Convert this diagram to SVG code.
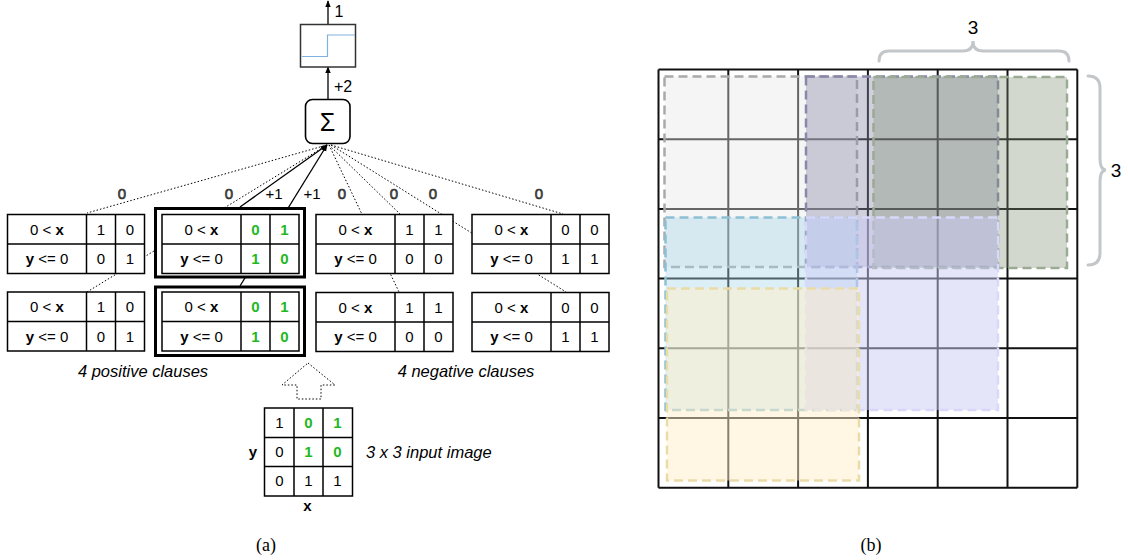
<svg xmlns="http://www.w3.org/2000/svg" width="1128" height="560" viewBox="0 0 1128 560">
<defs>
<style>
text{font-family:"Liberation Sans",Arial,sans-serif;fill:#000}
.t{font-size:15px;text-anchor:middle}
.b{font-weight:bold}
.g{fill:#1fb81f;font-weight:bold}
.lbl{font-size:15px;text-anchor:middle}
.zero{font-size:15px;text-anchor:middle;fill:#555;stroke:#222;stroke-width:0.6}
.it{font-size:16.5px;font-style:italic}
.cap{font-family:"Liberation Serif","Times New Roman",serif;font-size:18px;text-anchor:middle}
.tb{fill:#fff;stroke:#000;stroke-width:1.5}
.tl{stroke:#000;stroke-width:1.5}
.bold{fill:#fff;stroke:#000;stroke-width:3}
.dot{stroke:#000;stroke-width:1;stroke-dasharray:1.5 2;fill:none}
.sol{stroke:#000;stroke-width:1.3;fill:none}
.grid{stroke:#111;stroke-width:2}
.win{stroke-width:2.5;stroke-dasharray:9 5}
.brace{fill:none;stroke:#c3c7ca;stroke-width:3;stroke-linecap:round}
</style>
<marker id="ah" viewBox="0 0 10 10" refX="9" refY="5" markerWidth="7" markerHeight="7" orient="auto" markerUnits="userSpaceOnUse">
<path d="M0,1 L10,5 L0,9 Z" fill="#000"/>
</marker>
</defs>
<rect width="1128" height="560" fill="#fff"/>

<!-- connectors -->
<g id="connectors">
<line class="dot" x1="327" y1="145" x2="87" y2="213"/>
<line class="dot" x1="327" y1="145" x2="87" y2="292"/>
<line class="sol" x1="240" y1="207" x2="327" y2="145" marker-end="url(#ah)"/>
<line class="sol" x1="240" y1="286" x2="327" y2="145" marker-end="url(#ah)"/>
<line class="dot" x1="329" y1="145" x2="399" y2="292"/>
<line class="dot" x1="329" y1="145" x2="400" y2="214"/>
<line class="dot" x1="331" y1="145" x2="566" y2="292"/>
<line class="dot" x1="331" y1="145" x2="563" y2="214"/>
<line class="sol" x1="328" y1="99" x2="328" y2="67" marker-end="url(#ah)"/>
<line class="sol" x1="328" y1="24" x2="328" y2="1" marker-end="url(#ah)"/>
<polygon class="dot" points="308,363 335,385 321,385 321,399 297,399 297,385 282,385"/>
</g>

<!-- step function -->
<g id="step">
<rect x="300.5" y="24.5" width="55" height="42.5" fill="#fff" stroke="#333" stroke-width="1.5"/>
<path d="M302,56.5 H327.5 V35 H355" fill="none" stroke="#7fb2e0" stroke-width="1.2"/>
</g>
<text class="lbl" x="339" y="17" style="font-size:16px">1</text>
<text x="334" y="92" style="font-size:16px">+2</text>

<!-- sum -->
<g id="sum">
<rect x="305.5" y="99.5" width="44.5" height="44" rx="7" fill="#fff" stroke="#000" stroke-width="1.6"/>
<text x="327.5" y="131" style="font-size:25px;text-anchor:middle">Σ</text>
</g>

<!-- weight labels -->
<g id="weights">
<text class="zero" x="122" y="199">0</text>
<text class="zero" x="229" y="199">0</text>
<text class="lbl" x="274" y="199">+1</text>
<text class="lbl" x="312" y="199">+1</text>
<text class="zero" x="342" y="199">0</text>
<text class="zero" x="394" y="199">0</text>
<text class="zero" x="433" y="199">0</text>
<text class="zero" x="539" y="199">0</text>
</g>

<!-- bold frames -->
<rect class="bold" x="155.5" y="208.5" width="149" height="68.5"/>
<rect class="bold" x="155.5" y="287" width="149" height="68.5"/>

<!-- clause tables -->
<g id="clause1">
<rect class="tb" x="7.5" y="214.5" width="137" height="59"/>
<line class="tl" x1="7.5" y1="244" x2="144.5" y2="244"/>
<line class="tl" x1="86.5" y1="214.5" x2="86.5" y2="273.5"/>
<line class="tl" x1="115.5" y1="214.5" x2="115.5" y2="273.5"/>
<text class="t" x="47" y="234.5">0 &lt; <tspan class="b">x</tspan></text>
<text class="t" x="47" y="264"><tspan class="b">y</tspan> &lt;= 0</text>
<text class="t" x="101" y="234.5">1</text><text class="t" x="130" y="234.5">0</text>
<text class="t" x="101" y="264">0</text><text class="t" x="130" y="264">1</text>
</g>
<g id="clause2">
<rect class="tb" x="7.5" y="292" width="137" height="59"/>
<line class="tl" x1="7.5" y1="321.5" x2="144.5" y2="321.5"/>
<line class="tl" x1="86.5" y1="292" x2="86.5" y2="351"/>
<line class="tl" x1="115.5" y1="292" x2="115.5" y2="351"/>
<text class="t" x="47" y="312">0 &lt; <tspan class="b">x</tspan></text>
<text class="t" x="47" y="341.5"><tspan class="b">y</tspan> &lt;= 0</text>
<text class="t" x="101" y="312">1</text><text class="t" x="130" y="312">0</text>
<text class="t" x="101" y="341.5">0</text><text class="t" x="130" y="341.5">1</text>
</g>
<g id="clause3">
<rect class="tb" x="162" y="214.5" width="137" height="59"/>
<line class="tl" x1="162" y1="244" x2="299" y2="244"/>
<line class="tl" x1="241" y1="214.5" x2="241" y2="273.5"/>
<line class="tl" x1="270" y1="214.5" x2="270" y2="273.5"/>
<text class="t" x="201.5" y="234.5">0 &lt; <tspan class="b">x</tspan></text>
<text class="t" x="201.5" y="264"><tspan class="b">y</tspan> &lt;= 0</text>
<text class="t g" x="255.5" y="234.5">0</text><text class="t g" x="284.5" y="234.5">1</text>
<text class="t g" x="255.5" y="264">1</text><text class="t g" x="284.5" y="264">0</text>
</g>
<g id="clause4">
<rect class="tb" x="162" y="292" width="137" height="59"/>
<line class="tl" x1="162" y1="321.5" x2="299" y2="321.5"/>
<line class="tl" x1="241" y1="292" x2="241" y2="351"/>
<line class="tl" x1="270" y1="292" x2="270" y2="351"/>
<text class="t" x="201.5" y="312">0 &lt; <tspan class="b">x</tspan></text>
<text class="t" x="201.5" y="341.5"><tspan class="b">y</tspan> &lt;= 0</text>
<text class="t g" x="255.5" y="312">0</text><text class="t g" x="284.5" y="312">1</text>
<text class="t g" x="255.5" y="341.5">1</text><text class="t g" x="284.5" y="341.5">0</text>
</g>
<g id="clause5">
<rect class="tb" x="316" y="214.5" width="137" height="59"/>
<line class="tl" x1="316" y1="244" x2="453" y2="244"/>
<line class="tl" x1="395" y1="214.5" x2="395" y2="273.5"/>
<line class="tl" x1="424" y1="214.5" x2="424" y2="273.5"/>
<text class="t" x="355.5" y="234.5">0 &lt; <tspan class="b">x</tspan></text>
<text class="t" x="355.5" y="264"><tspan class="b">y</tspan> &lt;= 0</text>
<text class="t" x="409.5" y="234.5">1</text><text class="t" x="438.5" y="234.5">1</text>
<text class="t" x="409.5" y="264">0</text><text class="t" x="438.5" y="264">0</text>
</g>
<g id="clause6">
<rect class="tb" x="472" y="214.5" width="137" height="59"/>
<line class="tl" x1="472" y1="244" x2="609" y2="244"/>
<line class="tl" x1="551" y1="214.5" x2="551" y2="273.5"/>
<line class="tl" x1="580" y1="214.5" x2="580" y2="273.5"/>
<text class="t" x="511.5" y="234.5">0 &lt; <tspan class="b">x</tspan></text>
<text class="t" x="511.5" y="264"><tspan class="b">y</tspan> &lt;= 0</text>
<text class="t" x="565.5" y="234.5">0</text><text class="t" x="594.5" y="234.5">0</text>
<text class="t" x="565.5" y="264">1</text><text class="t" x="594.5" y="264">1</text>
</g>
<g id="clause7">
<rect class="tb" x="316" y="292.5" width="137" height="59"/>
<line class="tl" x1="316" y1="322" x2="453" y2="322"/>
<line class="tl" x1="395" y1="292.5" x2="395" y2="351.5"/>
<line class="tl" x1="424" y1="292.5" x2="424" y2="351.5"/>
<text class="t" x="355.5" y="312.5">0 &lt; <tspan class="b">x</tspan></text>
<text class="t" x="355.5" y="342"><tspan class="b">y</tspan> &lt;= 0</text>
<text class="t" x="409.5" y="312.5">1</text><text class="t" x="438.5" y="312.5">1</text>
<text class="t" x="409.5" y="342">0</text><text class="t" x="438.5" y="342">0</text>
</g>
<g id="clause8">
<rect class="tb" x="472" y="292.5" width="137" height="59"/>
<line class="tl" x1="472" y1="322" x2="609" y2="322"/>
<line class="tl" x1="551" y1="292.5" x2="551" y2="351.5"/>
<line class="tl" x1="580" y1="292.5" x2="580" y2="351.5"/>
<text class="t" x="511.5" y="312.5">0 &lt; <tspan class="b">x</tspan></text>
<text class="t" x="511.5" y="342"><tspan class="b">y</tspan> &lt;= 0</text>
<text class="t" x="565.5" y="312.5">0</text><text class="t" x="594.5" y="312.5">0</text>
<text class="t" x="565.5" y="342">1</text><text class="t" x="594.5" y="342">1</text>
</g>

<text class="it" x="143" y="377" text-anchor="middle">4 positive clauses</text>
<text class="it" x="466" y="377" text-anchor="middle">4 negative clauses</text>

<!-- input image -->
<g id="input">
<rect class="tb" x="264.5" y="408" width="88" height="88"/>
<line class="tl" x1="294" y1="408" x2="294" y2="496"/>
<line class="tl" x1="323" y1="408" x2="323" y2="496"/>
<line class="tl" x1="264.5" y1="437.5" x2="352.5" y2="437.5"/>
<line class="tl" x1="264.5" y1="466.5" x2="352.5" y2="466.5"/>
<text class="t" x="279.5" y="428">1</text><text class="t g" x="308.5" y="428">0</text><text class="t g" x="337.5" y="428">1</text>
<text class="t" x="279.5" y="457">0</text><text class="t g" x="308.5" y="457">1</text><text class="t g" x="337.5" y="457">0</text>
<text class="t" x="279.5" y="486">0</text><text class="t" x="308.5" y="486">1</text><text class="t" x="337.5" y="486">1</text>
<text class="t b" x="253" y="457">y</text>
<text class="t b" x="307.5" y="511">x</text>
</g>
<text class="it" x="366" y="457.5">3 x 3 input image</text>

<text class="cap" x="266" y="551">(a)</text>
<text class="cap" x="871" y="551">(b)</text>

<!-- right grid -->
<g id="grid">
<rect x="658.5" y="69.5" width="418.8" height="418.2" fill="#fff"/>
<g class="grid">
<line x1="658.5" y1="69.5" x2="658.5" y2="487.7"/>
<line x1="728.3" y1="69.5" x2="728.3" y2="487.7"/>
<line x1="798.1" y1="69.5" x2="798.1" y2="487.7"/>
<line x1="867.9" y1="69.5" x2="867.9" y2="487.7"/>
<line x1="937.7" y1="69.5" x2="937.7" y2="487.7"/>
<line x1="1007.5" y1="69.5" x2="1007.5" y2="487.7"/>
<line x1="1077.3" y1="69.5" x2="1077.3" y2="487.7"/>
<line x1="658.5" y1="69.5" x2="1077.3" y2="69.5"/>
<line x1="658.5" y1="139.2" x2="1077.3" y2="139.2"/>
<line x1="658.5" y1="208.9" x2="1077.3" y2="208.9"/>
<line x1="658.5" y1="278.6" x2="1077.3" y2="278.6"/>
<line x1="658.5" y1="348.3" x2="1077.3" y2="348.3"/>
<line x1="658.5" y1="418" x2="1077.3" y2="418"/>
<line x1="658.5" y1="487.7" x2="1077.3" y2="487.7"/>
</g>
</g>
<g id="windows">
<rect class="win" x="664.5" y="76.5" width="192.5" height="190.5" fill="#e6e6e6" fill-opacity="0.4" stroke="#a9a9a9"/>
<rect class="win" x="806" y="76.5" width="192" height="190.5" fill="#8a86a8" fill-opacity="0.4" stroke="#8a88a8"/>
<rect class="win" x="873.5" y="77" width="193.5" height="191" fill="#7d9070" fill-opacity="0.35" stroke="#9aaa94"/>
<rect class="win" x="665.5" y="217.5" width="191.5" height="192.5" fill="#a8d8ea" fill-opacity="0.4" stroke="#8ec0d4"/>
<rect class="win" x="806" y="217.5" width="192" height="192.5" fill="#ccccf5" fill-opacity="0.5" stroke="#d8d8fa"/>
<rect class="win" x="667" y="288.5" width="192" height="192" fill="#fff0c8" fill-opacity="0.5" stroke="#eadca8"/>
</g>
<g id="braces">
<path class="brace" d="M879,61 Q879,51 889,51 L963,51 Q973,51 973,41 Q973,51 983,51 L1059,51 Q1069,51 1069,61"/>
<path class="brace" d="M1088,76 Q1100,76 1100,88 L1100,158 Q1100,170 1106,170 Q1100,170 1100,182 L1100,253 Q1100,265 1088,265"/>
</g>
<text x="973" y="34" style="font-size:19px;text-anchor:middle">3</text>
<text x="1116" y="177" style="font-size:19px;text-anchor:middle">3</text>
</svg>
